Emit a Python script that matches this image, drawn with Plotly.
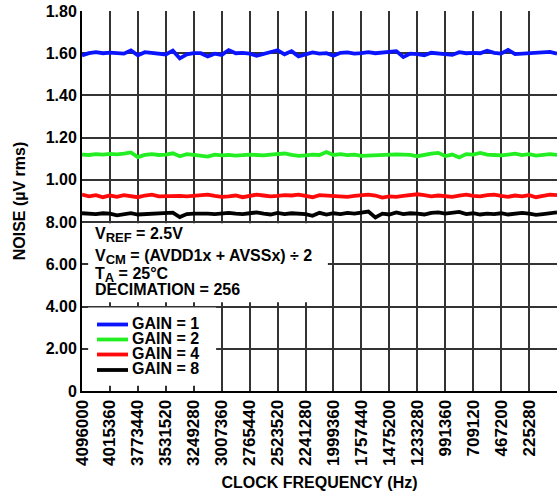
import plotly.graph_objects as go

# ---- data ----
freq_labels = ["4096000", "4015360", "3773440", "3531520", "3249280", "3007360",
               "2765440", "2523520", "2241280", "1999360", "1757440", "1475200",
               "1233280", "991360", "709120", "467200", "225280"]

y_tick_vals = [0, 0.2, 0.4, 0.6, 0.8, 1.0, 1.2, 1.4, 1.6, 1.8]
y_tick_text = ["0", "2.00", "4.00", "6.00", "8.00", "1.00", "1.20", "1.40", "1.60", "1.80"]

gain1 = [1.590, 1.600, 1.605, 1.600, 1.603, 1.600, 1.598, 1.613, 1.590, 1.605,
         1.602, 1.596, 1.594, 1.612, 1.576, 1.595, 1.600, 1.600, 1.585, 1.598,
         1.592, 1.615, 1.600, 1.602, 1.598, 1.588, 1.598, 1.604, 1.614, 1.595,
         1.610, 1.585, 1.596, 1.604, 1.598, 1.600, 1.588, 1.602, 1.604, 1.598,
         1.600, 1.605, 1.600, 1.602, 1.606, 1.610, 1.582, 1.598, 1.596, 1.590,
         1.602, 1.600, 1.596, 1.592, 1.605, 1.600, 1.602, 1.600, 1.612, 1.602,
         1.598, 1.616, 1.596, 1.598, 1.600, 1.600, 1.603, 1.606, 1.598]

gain2 = [1.120, 1.118, 1.122, 1.120, 1.123, 1.121, 1.124, 1.130, 1.108, 1.118,
         1.122, 1.118, 1.120, 1.126, 1.112, 1.122, 1.118, 1.115, 1.110, 1.120,
         1.116, 1.118, 1.115, 1.117, 1.120, 1.118, 1.116, 1.120, 1.122, 1.125,
         1.118, 1.114, 1.116, 1.120, 1.118, 1.132, 1.118, 1.122, 1.117, 1.120,
         1.114, 1.116, 1.115, 1.120, 1.118, 1.121, 1.120, 1.119, 1.112, 1.120,
         1.124, 1.128, 1.113, 1.120, 1.106, 1.122, 1.120, 1.128, 1.120, 1.118,
         1.116, 1.120, 1.124, 1.117, 1.122, 1.115, 1.120, 1.122, 1.118]

gain4 = [0.930, 0.922, 0.928, 0.918, 0.926, 0.920, 0.928, 0.924, 0.918, 0.926,
         0.930, 0.922, 0.924, 0.926, 0.924, 0.922, 0.926, 0.928, 0.930, 0.924,
         0.920, 0.922, 0.926, 0.918, 0.924, 0.930, 0.926, 0.922, 0.924, 0.928,
         0.926, 0.930, 0.924, 0.918, 0.928, 0.926, 0.924, 0.922, 0.920, 0.924,
         0.928, 0.930, 0.926, 0.916, 0.922, 0.920, 0.924, 0.926, 0.932, 0.928,
         0.922, 0.926, 0.924, 0.920, 0.926, 0.930, 0.924, 0.922, 0.928, 0.930,
         0.924, 0.920, 0.926, 0.922, 0.928, 0.918, 0.924, 0.930, 0.928]

gain8 = [0.842, 0.840, 0.838, 0.842, 0.840, 0.832, 0.838, 0.842, 0.836, 0.838,
         0.840, 0.838, 0.842, 0.845, 0.824, 0.838, 0.840, 0.842, 0.840, 0.838,
         0.842, 0.844, 0.840, 0.838, 0.842, 0.846, 0.840, 0.836, 0.844, 0.838,
         0.842, 0.840, 0.838, 0.830, 0.844, 0.836, 0.842, 0.838, 0.844, 0.840,
         0.846, 0.850, 0.822, 0.840, 0.836, 0.846, 0.838, 0.842, 0.840, 0.836,
         0.844, 0.846, 0.840, 0.842, 0.848, 0.838, 0.842, 0.836, 0.840, 0.838,
         0.842, 0.836, 0.838, 0.844, 0.840, 0.834, 0.838, 0.842, 0.846]

series = [("GAIN = 1", gain1, "#0a14ff"),
          ("GAIN = 2", gain2, "#22ee22"),
          ("GAIN = 4", gain4, "#ff0a0a"),
          ("GAIN = 8", gain8, "#000000")]

POINTS_PER_TICK = 4
x_pos = [i / POINTS_PER_TICK for i in range(len(gain1))]

FONT = "Liberation Sans, Arial, sans-serif"

fig = go.Figure()
for name, vals, col in series:
    fig.add_trace(go.Scatter(x=x_pos, y=vals, mode="lines", name=name,
                             line=dict(color=col, width=3.8), showlegend=False))

# white boxes over grid (text block and legend area)
fig.add_shape(type="rect", xref="x", yref="y", x0=0.22, x1=8.8, y0=0.42, y1=0.795,
              fillcolor="white", line_width=0, layer="above")
fig.add_shape(type="rect", xref="x", yref="y", x0=0.22, x1=4.8, y0=0.025, y1=0.396,
              fillcolor="white", line_width=0, layer="above")

W, H = 557, 497
L, R, T, B = 82, 0, 11, 106
pw, ph = W - L - R, H - T - B


def px(x):
    return (x - L) / pw


def py(y):
    return (H - B - y) / ph


SUB = '<sub><span style="font-size:13px">{}</span></sub>'
annos = []
text_lines = [("V" + SUB.format("REF") + " = 2.5V", 234.5),
              ("V" + SUB.format("CM") + " = (AVDD1x + AVSSx) ÷ 2", 256.5),
              ("T" + SUB.format("A") + " = 25°C", 274.5),
              ("DECIMATION = 256", 289.5)]
for t, yy in text_lines:
    annos.append(dict(text=t, xref="paper", yref="paper", x=px(93), y=py(yy),
                      xanchor="left", yanchor="middle", showarrow=False,
                      font=dict(family=FONT, size=16, color="black", weight="bold")))

leg_y = [324.5, 339.5, 354.5, 370]
for (name, vals, col), yy in zip(series, leg_y):
    fig.add_shape(type="line", xref="paper", yref="paper", x0=px(97), x1=px(128),
                  y0=py(yy), y1=py(yy), line=dict(color=col, width=3.8), layer="above")
    annos.append(dict(text=name, xref="paper", yref="paper", x=px(130), y=py(yy - 1.5),
                      xanchor="left", yanchor="middle", showarrow=False,
                      font=dict(family=FONT, size=16, color="black", weight="bold")))

fig.update_layout(
    width=W, height=H,
    margin=dict(l=L, r=R, t=T, b=B, autoexpand=False),
    plot_bgcolor="white", paper_bgcolor="white",
    font=dict(family=FONT, size=16, color="black", weight="bold"),
    showlegend=False,
    annotations=annos,
)

fig.update_xaxes(range=[0, 17], tickvals=list(range(len(freq_labels))),
                 ticktext=freq_labels, tickangle=-90, automargin=False,
                 showgrid=True, gridcolor="#333333", gridwidth=1.5,
                 showline=True, linecolor="black", linewidth=2,
                 ticks="", zeroline=False,
                 title=dict(text="CLOCK FREQUENCY (Hz)", standoff=12,
                            font=dict(family=FONT, size=16, weight="bold")),
                 tickfont=dict(family=FONT, size=17, weight="bold"))

fig.update_yaxes(range=[0, 1.8], tickvals=y_tick_vals, ticktext=y_tick_text,
                 automargin=False,
                 showgrid=True, gridcolor="#333333", gridwidth=1.5,
                 showline=True, linecolor="black", linewidth=2,
                 ticks="", zeroline=False,
                 title=dict(text="NOISE (µV rms)", standoff=16,
                            font=dict(family=FONT, size=16, weight="bold")),
                 tickfont=dict(family=FONT, size=16, weight="bold"))

fig.write_html("out.html", config={"displayModeBar": False},
               post_script="document.body.style.margin='0';document.body.style.overflow='hidden';")
